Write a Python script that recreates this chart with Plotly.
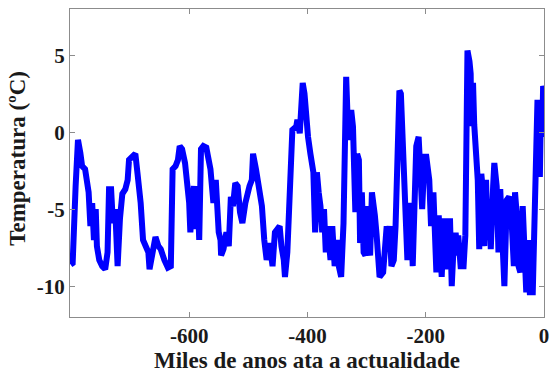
import plotly.graph_objects as go

# Miles de anos (ky relative to present) and temperature anomaly (ºC)
years = [
    -800.5, -797, -792, -788, -784, -781, -776, -772, -770, -767, -764, -761, -758, -756, -752,
    -747, -742, -738, -735.5, -732, -729, -725, -721, -717, -713, -708, -704, -701.7, -696, -691,
    -687, -682, -678, -673, -669, -667, -661, -657, -652, -648, -642, -636, -631, -628, -623,
    -619, -616, -612, -607, -603, -600, -598, -595, -592, -589, -586, -583, -580, -576, -571,
    -568, -564, -559, -555, -550, -547, -546, -542, -537, -533, -529.5, -526, -522, -518, -514,
    -510, -505, -503, -498, -494, -492, -487, -484, -481, -477, -473, -469, -464, -461, -459,
    -455, -451, -447, -444, -440, -438, -434, -431, -428, -425.5, -419, -417, -413, -410, -408,
    -405, -403, -399, -395, -390, -387, -384, -381, -378, -375, -372, -369, -366, -361, -358,
    -354, -350, -347, -343, -339, -336, -334.5, -332, -329, -326, -323, -319, -316, -313, -311,
    -308, -305, -302, -300, -297, -294, -291, -289, -286, -283, -280, -278, -272, -269, -266,
    -264, -261, -258, -254, -251, -247, -244.5, -242, -239, -237, -234, -231, -228, -225, -222,
    -218, -216, -212, -209, -206, -202, -199, -194, -191, -187, -185, -182, -178, -175, -173,
    -169, -167, -164, -161, -159, -156, -152, -149, -146, -145, -141, -136, -133, -130.5, -129.4,
    -126, -124, -123, -120, -118, -115, -112, -109.5, -106, -104, -101, -98, -95, -92, -90,
    -86, -84, -80, -77, -74, -70, -67, -63, -59, -56, -53, -51, -49, -46, -43,
    -40, -36, -33, -30, -27, -24, -19, -16, -13, -11, -9, -7, -5, -3, -1.5, -0.5,
]
temps = [
    -8.6, -8.5, -3.5, -0.5, -1.35, -2.2, -2.4, -3.5, -3.9, -6.1, -4.6, -7.0, -5.0, -7.4, -8.3,
    -8.7, -8.9, -7.8, -3.7, -3.7, -5.9, -5.0, -8.7, -5.6, -4.0, -3.7, -3.1, -1.8, -1.6, -1.4,
    -2.8, -4.6, -7.0, -7.4, -7.8, -8.9, -7.8, -6.8, -7.4, -7.6, -8.3, -8.8, -8.7, -2.4, -2.2,
    -1.8, -0.9, -1.1, -2.0, -3.5, -4.6, -6.5, -4.0, -3.5, -6.3, -3.5, -7.0, -1.1, -0.9, -1.0,
    -1.6, -2.4, -4.6, -3.1, -6.5, -7.0, -8.0, -7.6, -6.5, -7.4, -4.2, -4.8, -3.3, -3.5, -5.2,
    -5.9, -4.6, -4.2, -3.5, -3.1, -1.4, -2.4, -3.3, -4.2, -4.8, -7.0, -8.3, -7.2, -7.8, -8.7,
    -6.5, -6.3, -6.1, -7.4, -8.3, -9.4, -7.8, -5.0, -2.4, 0.15, 0.36, 0.8, -0.07, 1.44, 3.2,
    2.5, 1.2, -0.3, -1.4, -2.6, -6.5, -2.6, -3.9, -4.8, -6.5, -5.0, -7.8, -6.1, -8.3, -6.1,
    -8.7, -7.0, -8.7, -9.4, -5.9, 1.44, 3.6, 0.8, -0.5, 1.44, 0.36, -5.2, -1.4, -1.8, -7.2,
    -3.9, -7.8, -8.0, -4.8, -7.4, -8.0, -3.9, -4.4, -5.4, -6.7, -7.8, -9.4, -9.1, -7.8, -6.1,
    -7.0, -6.1, -8.7, -8.3, -6.1, -1.8, 2.7, 2.5, -0.7, -2.0, -4.4, -8.3, -4.6, -5.2, -8.7,
    -1.4, -0.9, -0.3, -2.4, -5.0, -1.6, -1.6, -3.1, -6.1, -3.9, -7.8, -9.1, -5.4, -7.4, -9.4,
    -5.6, -8.9, -6.1, -7.8, -5.6, -10.0, -6.7, -6.7, -8.0, -6.7, -8.7, -8.7, -6.7, -0.5, 5.3,
    4.6, 3.8, 0.4, 3.2, 0.5, -1.2, -3.1, -7.6, -2.7, -3.5, -7.4, -3.1, -7.0, -4.8, -7.6,
    -3.5, -2.0, -3.5, -7.8, -3.7, -9.1, -10.0, -4.4, -4.2, -4.8, -7.5, -8.7, -3.9, -5.4, -8.7,
    -9.1, -4.8, -9.6, -10.4, -7.0, -10.4, -10.4, -7.0, -1.0, 2.1, 0.4, -2.9, 2.1, -0.3, 3.0, 2.8,
]

x_ticks = [-600, -400, -200, 0]
y_ticks = [-10, -5, 0, 5]

FONT = "Liberation Serif"
TXT = "#1a1a1a"
AX = "#8c8c8c"

fig = go.Figure()
fig.add_trace(go.Scatter(
    x=years, y=temps, mode="lines",
    line=dict(color="#0000ff", width=6),
    showlegend=False, hoverinfo="skip",
))

axis_common = dict(
    showline=True, linecolor=AX, linewidth=1, mirror="allticks",
    ticks="inside", ticklen=5, tickcolor=AX, tickwidth=1,
    showgrid=False, zeroline=False,
    tickfont=dict(family=FONT, size=21, color=TXT, weight="bold"),
)

fig.update_xaxes(range=[-801.5, 0], tickvals=x_ticks, ticktext=[str(v) for v in x_ticks], **axis_common)
fig.update_yaxes(range=[-12, 8], tickvals=y_ticks, ticktext=[str(v) for v in y_ticks], **axis_common)

fig.update_layout(
    width=556, height=371,
    margin=dict(l=70, r=7, t=9, b=54),
    plot_bgcolor="white", paper_bgcolor="white",
    annotations=[
        dict(text="<b>Miles de anos ata a actualidade</b>", xref="paper", yref="paper",
             x=0.5, y=-0.14, xanchor="center", yanchor="middle", showarrow=False,
             font=dict(family=FONT, size=23, color=TXT)),
        dict(text="<b>Temperatura (ºC)</b>", xref="paper", yref="paper",
             x=-0.111, y=0.515, xanchor="center", yanchor="middle", showarrow=False,
             textangle=-90, font=dict(family=FONT, size=23, color=TXT)),
    ],
)

fig.write_html("out.html")
